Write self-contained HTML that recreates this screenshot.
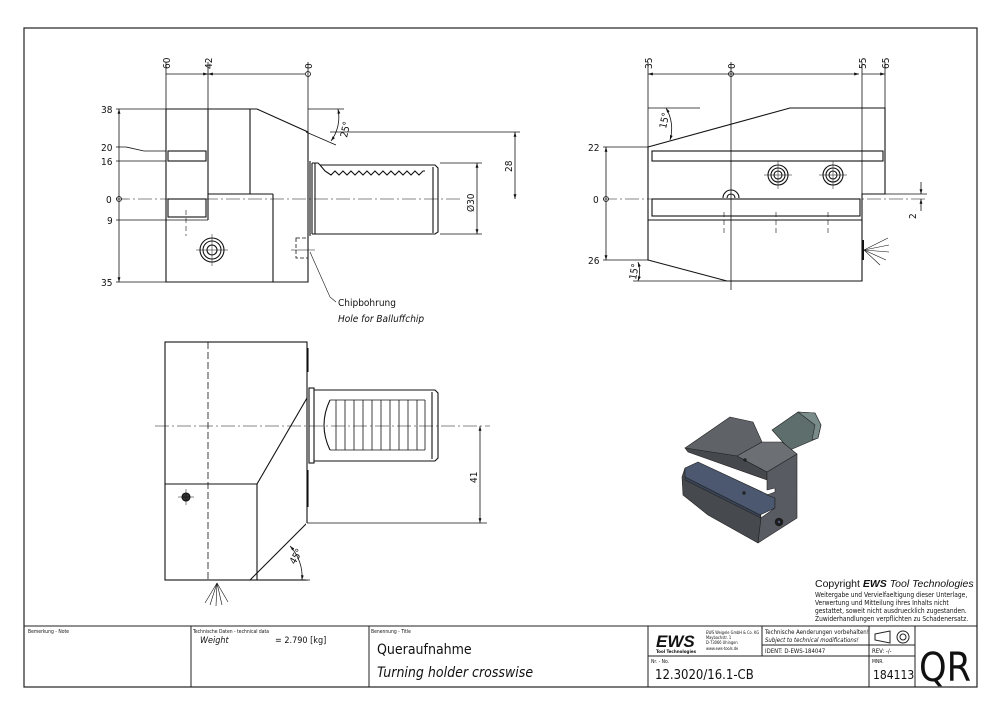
<!DOCTYPE html>
<html><head><meta charset="utf-8"><style>
html,body{margin:0;padding:0;background:#fff}
svg{display:block}
text{font-family:"DejaVu Sans Condensed","Liberation Sans",sans-serif;fill:#111}
</style></head><body>
<svg width="1000" height="715" viewBox="0 0 1000 715" xmlns="http://www.w3.org/2000/svg">
<defs>
<marker id="a" viewBox="0 0 10 10" refX="10" refY="5" markerWidth="6" markerHeight="6" orient="auto-start-reverse"><path d="M0,2 L10,5 L0,8z" fill="#111"/></marker>
</defs>
<rect x="0" y="0" width="1000" height="715" fill="#fff"/>
<rect x="24" y="28" width="953" height="659" fill="none" stroke="#222" stroke-width="1.2"/>

<g stroke="#111" stroke-width="0.8" fill="none">
<!-- ===== View 1 ===== -->
<line x1="166" y1="62" x2="166" y2="109"/><line x1="208" y1="62" x2="208" y2="220"/><line x1="308" y1="62" x2="308" y2="132"/>
<line x1="166" y1="74" x2="208" y2="74" marker-end="url(#a)"/><line x1="208" y1="74" x2="305" y2="74" marker-start="url(#a)"/>
<circle cx="308" cy="74" r="2.5"/>
<line x1="116" y1="109" x2="166" y2="109"/><line x1="116" y1="161" x2="166" y2="161"/><line x1="116" y1="220" x2="208" y2="220"/><line x1="116" y1="282" x2="166" y2="282"/>
<polyline points="116,147 126,147 144,151 166,151"/>
<line x1="119" y1="109" x2="119" y2="282" marker-start="url(#a)" marker-end="url(#a)"/>
<circle cx="119" cy="199" r="2.5"/>
<line x1="116" y1="199" x2="460" y2="199" stroke-dasharray="14,3,2,3" stroke-width="0.6"/>
<g stroke-width="1.1">
<polyline points="166,109 257,109 308,132 308,282 166,282 166,109"/>
<line x1="250" y1="109" x2="250" y2="194"/><line x1="208" y1="194" x2="273" y2="194"/><line x1="273" y1="194" x2="273" y2="282"/>
<line x1="208" y1="109" x2="208" y2="220"/>
<rect x="168" y="151" width="38" height="10"/><rect x="168" y="199" width="38" height="18"/>
<line x1="310" y1="161" x2="310" y2="236"/>
<polyline points="312,163 318,163 320,165 435,165 438,168 438,232 435,234 318,234 312,234"/>
<line x1="312" y1="163" x2="312" y2="234"/><line x1="315" y1="163" x2="315" y2="234"/>
<polyline points="320,165 325,171 331,175 335,171 339,175 343,171 347,175 351,171 355,175 359,171 363,175 367,171 371,175 375,171 379,175 383,171 387,175 391,171 395,175 399,171 403,175 407,171 411,175 415,171 419,175 423,171 425,171"/>
<line x1="433" y1="167" x2="433" y2="233"/>
<circle cx="212" cy="250" r="12"/><circle cx="212" cy="250" r="9"/><circle cx="212" cy="250" r="5"/>
</g>
<line x1="196" y1="250" x2="228" y2="250" stroke-width="0.5"/><line x1="212" y1="234" x2="212" y2="266" stroke-width="0.5"/>
<line x1="186" y1="210" x2="186" y2="236" stroke-dasharray="5,3" stroke-width="0.6"/>
<rect x="296" y="238" width="12" height="20" stroke-dasharray="4,2"/>
<line x1="291" y1="250" x2="315" y2="250" stroke-width="0.5"/>
<line x1="306" y1="132" x2="336" y2="145" stroke-width="0.8"/><line x1="308" y1="109" x2="344" y2="109"/>
<path d="M338,109 A40,40 0 0 1 331,141" marker-start="url(#a)" marker-end="url(#a)"/>
<line x1="330" y1="132" x2="520" y2="132"/><line x1="440" y1="163" x2="482" y2="163"/><line x1="440" y1="234" x2="482" y2="234"/>
<line x1="515" y1="132" x2="515" y2="199" marker-start="url(#a)" marker-end="url(#a)"/>
<line x1="477" y1="163" x2="477" y2="234" marker-start="url(#a)" marker-end="url(#a)"/>
<polyline points="310,252 330,297 336,302" stroke-width="0.6"/>

<!-- ===== View 2 ===== -->
<line x1="648" y1="62" x2="648" y2="147"/><line x1="731" y1="62" x2="731" y2="290"/><line x1="862" y1="62" x2="862" y2="194"/><line x1="885" y1="62" x2="885" y2="108"/>
<line x1="648" y1="74" x2="859" y2="74" marker-start="url(#a)" marker-end="url(#a)"/><line x1="862" y1="74" x2="885" y2="74" marker-end="url(#a)"/>
<circle cx="731" cy="74" r="2.5"/>
<line x1="603" y1="147" x2="648" y2="147"/><line x1="603" y1="260" x2="648" y2="260"/>
<line x1="606" y1="147" x2="606" y2="260" marker-start="url(#a)" marker-end="url(#a)"/>
<circle cx="606" cy="199" r="2.5"/>
<line x1="603" y1="199" x2="925" y2="199" stroke-dasharray="14,3,2,3" stroke-width="0.6"/>
<g stroke-width="1.1">
<polyline points="648,147 790,108 885,108 885,194 862,194 862,281 727,281 648,260 648,147"/>
<rect x="652" y="151" width="231" height="10"/><rect x="652" y="199" width="208" height="17"/>
<line x1="648" y1="220" x2="862" y2="220"/>
<circle cx="778" cy="175" r="10"/><circle cx="778" cy="175" r="7"/><circle cx="778" cy="175" r="4"/>
<circle cx="833" cy="175" r="10"/><circle cx="833" cy="175" r="7"/><circle cx="833" cy="175" r="4"/>
<path d="M723,198 A8,8 0 0 1 739,198"/><path d="M727,198 A4,4 0 0 1 735,198"/>
</g>
<line x1="764" y1="175" x2="792" y2="175" stroke-width="0.5"/><line x1="778" y1="161" x2="778" y2="189" stroke-width="0.5"/>
<line x1="819" y1="175" x2="847" y2="175" stroke-width="0.5"/><line x1="833" y1="161" x2="833" y2="189" stroke-width="0.5"/>
<line x1="724" y1="212" x2="724" y2="236" stroke-dasharray="5,3" stroke-width="0.6"/>
<line x1="776" y1="212" x2="776" y2="236" stroke-dasharray="5,3" stroke-width="0.6"/>
<line x1="828" y1="212" x2="828" y2="236" stroke-dasharray="5,3" stroke-width="0.6"/>
<line x1="885" y1="194" x2="927" y2="194"/>
<line x1="921" y1="182" x2="921" y2="194" marker-end="url(#a)"/><line x1="921" y1="211" x2="921" y2="199" marker-end="url(#a)"/>
<path d="M666,108 A40,40 0 0 1 670,140" marker-start="url(#a)" marker-end="url(#a)"/><line x1="648" y1="108" x2="700" y2="108"/>
<line x1="633" y1="281" x2="727" y2="281"/>
<path d="M638,262 A30,30 0 0 1 638,281" marker-start="url(#a)" marker-end="url(#a)"/>
<g stroke-width="0.6"><line x1="864" y1="250" x2="888" y2="238"/><line x1="864" y1="250" x2="889" y2="245"/><line x1="864" y1="250" x2="889" y2="252"/><line x1="864" y1="250" x2="886" y2="260"/><line x1="864" y1="250" x2="880" y2="265"/></g>
<line x1="863" y1="240" x2="863" y2="260" stroke-width="2"/>

<!-- ===== View 3 ===== -->
<line x1="155" y1="426" x2="490" y2="426" stroke-dasharray="14,3,2,3" stroke-width="0.6"/>
<line x1="208" y1="342" x2="208" y2="580" stroke-dasharray="7,3" stroke-width="0.8"/>
<g stroke-width="1.1">
<rect x="165" y="342" width="142" height="238"/>
<line x1="165" y1="484" x2="257" y2="484"/><line x1="257" y1="484" x2="257" y2="580"/>
<line x1="257" y1="484" x2="307" y2="398"/><line x1="250" y1="580" x2="307" y2="523"/>
<line x1="307" y1="523" x2="307" y2="580" stroke="#fff" stroke-width="2"/>
<line x1="308" y1="348" x2="308" y2="372"/><line x1="308" y1="470" x2="308" y2="507"/>
<rect x="309" y="388" width="5" height="75"/>
<polyline points="314,390 435,390 438,393 438,458 435,461 314,461"/>
<line x1="432" y1="392" x2="432" y2="459"/>
<path d="M330,400 Q318,425 330,450"/>
<g stroke-width="0.8">
<line x1="330" y1="400" x2="425" y2="400"/><line x1="330" y1="450" x2="425" y2="450"/>
<line x1="336" y1="400" x2="336" y2="450"/><line x1="345" y1="400" x2="345" y2="450"/><line x1="354" y1="400" x2="354" y2="450"/><line x1="363" y1="400" x2="363" y2="450"/><line x1="372" y1="400" x2="372" y2="450"/><line x1="381" y1="400" x2="381" y2="450"/><line x1="390" y1="400" x2="390" y2="450"/><line x1="399" y1="400" x2="399" y2="450"/><line x1="408" y1="400" x2="408" y2="450"/><line x1="417" y1="400" x2="417" y2="450"/><line x1="425" y1="400" x2="425" y2="450"/>
</g>
<circle cx="186" cy="497" r="4" fill="#333"/>
</g>
<line x1="178" y1="497" x2="194" y2="497" stroke-width="0.5"/><line x1="186" y1="489" x2="186" y2="505" stroke-width="0.5"/>
<line x1="307" y1="523" x2="487" y2="523"/>
<line x1="480" y1="426" x2="480" y2="523" marker-start="url(#a)" marker-end="url(#a)"/>
<line x1="250" y1="580" x2="310" y2="580"/>
<path d="M290,546 A45,45 0 0 1 302,580" marker-start="url(#a)" marker-end="url(#a)"/>
<g stroke-width="0.6"><line x1="217" y1="583" x2="205" y2="603"/><line x1="217" y1="583" x2="210" y2="605"/><line x1="217" y1="583" x2="216" y2="606"/><line x1="217" y1="583" x2="222" y2="605"/><line x1="217" y1="583" x2="228" y2="602"/></g>
</g>

<!-- dims text -->
<g font-size="10">
<text transform="translate(170,69) rotate(-90)">60</text>
<text transform="translate(212,69) rotate(-90)">42</text>
<text transform="translate(312,69) rotate(-90)">0</text>
<text x="101" y="113">38</text><text x="101" y="151">20</text><text x="101" y="165">16</text><text x="106" y="203">0</text><text x="107" y="224">9</text><text x="101" y="286">35</text>
<text transform="translate(347,138) rotate(-78)">25°</text>
<text transform="translate(512,172) rotate(-90)">28</text>
<text transform="translate(474,212) rotate(-90)">Ø30</text>
<text x="338" y="306">Chipbohrung</text>
<text x="338" y="322" font-style="italic">Hole for Balluffchip</text>
<text transform="translate(652,69) rotate(-90)">35</text>
<text transform="translate(735,69) rotate(-90)">0</text>
<text transform="translate(866,69) rotate(-90)">55</text>
<text transform="translate(889,69) rotate(-90)">65</text>
<text x="588" y="151">22</text><text x="593" y="203">0</text><text x="588" y="264">26</text>
<text transform="translate(666,129) rotate(-78)">15°</text>
<text transform="translate(636,280) rotate(-80)">15°</text>
<text transform="translate(916,219) rotate(-90)">2</text>
<text transform="translate(477,483) rotate(-90)">41</text>
<text transform="translate(295,565) rotate(-60)">45°</text>
</g>

<!-- iso render -->
<g stroke="#222" stroke-width="0.6" stroke-linejoin="round">
<polygon points="772,430 798,412 815,413 821,425 818,438 790,450" fill="#5e6e6c"/>
<polygon points="798,412 815,413 821,425 818,438 812,440 815,425" fill="#7a8c8a"/>
<polygon points="682,477 685,468 760,500 761,518 758,543 708,515 683,495" fill="#46494e"/>
<polygon points="685,468 698,462 775,498 775,508 760,515 685,477" fill="#4b5870"/>
<polygon points="685,477 760,515 761,518 685,480" fill="#3a4458"/>
<polygon points="685,448 730,417 753,422 762,442 737,456" fill="#5f6267"/>
<polygon points="685,448 737,456 767,472 767,480 688,452" fill="#45484d"/>
<polygon points="737,456 762,442 782,442 797,454 767,472" fill="#6c7075"/>
<polygon points="767,472 797,454 797,518 758,543 761,518 775,508 775,498 767,495 775,492 775,488 767,490" fill="#585c62"/>
<circle cx="779" cy="522" r="4" fill="#1a1a1a"/><circle cx="779" cy="522" r="1.5" fill="#4a5a80"/>
<circle cx="745" cy="460" r="1.4" fill="#222"/><circle cx="744" cy="493" r="1.4" fill="#222"/>
</g>

<!-- copyright -->
<text x="815" y="587" font-size="10.5" style="font-family:'Liberation Sans',sans-serif">Copyright <tspan font-weight="bold" font-style="italic">EWS</tspan> <tspan font-style="italic">Tool Technologies</tspan></text>
<g font-size="6.6" style="font-family:'Liberation Sans',sans-serif">
<text x="815" y="597">Weitergabe und Vervielfaeltigung dieser Unterlage,</text>
<text x="815" y="605">Verwertung und Mitteilung ihres Inhalts nicht</text>
<text x="815" y="613">gestattet, soweit nicht ausdruecklich zugestanden.</text>
<text x="815" y="621">Zuwiderhandlungen verpflichten zu Schadenersatz.</text>
</g>

<!-- title block -->
<g stroke="#222" stroke-width="1" fill="none">
<line x1="24" y1="626" x2="977" y2="626"/>
<line x1="191" y1="626" x2="191" y2="687"/><line x1="369" y1="626" x2="369" y2="687"/><line x1="648" y1="626" x2="648" y2="687"/>
<line x1="762" y1="626" x2="762" y2="656"/><line x1="869" y1="626" x2="869" y2="687"/><line x1="915" y1="626" x2="915" y2="687"/>
<line x1="648" y1="656" x2="915" y2="656"/><line x1="762" y1="645" x2="915" y2="645"/>
<polygon points="875,634 890,631 890,643 875,640"/><circle cx="903" cy="637" r="6"/><circle cx="903" cy="637" r="3"/>
</g>
<g font-size="5">
<text x="28" y="633">Bemerkung - Note</text><text x="193" y="633">Technische Daten - technical data</text><text x="371" y="633">Benennung - Title</text>
<text x="651" y="663">Nr. - No.</text><text x="872" y="663">MNR.</text>
</g>
<text x="200" y="643" font-size="9" font-style="italic">Weight</text><text x="275" y="643" font-size="9">=  2.790 [kg]</text>
<text x="377" y="654" font-size="14">Queraufnahme</text>
<text x="377" y="677" font-size="14" font-style="italic">Turning holder crosswise</text>
<text x="656" y="647" font-size="17" font-weight="bold" font-style="italic" style="font-family:'Liberation Sans',sans-serif">EWS</text>
<text x="656" y="653" font-size="4.5" font-weight="bold">Tool Technologies</text>
<g font-size="4"><text x="706" y="634">EWS Weigele GmbH &amp; Co. KG</text><text x="706" y="639">Maybachstr. 1</text><text x="706" y="644">D-73066 Uhingen</text><text x="706" y="650">www.ews-tools.de</text></g>
<text x="765" y="634" font-size="6">Technische Aenderungen vorbehalten!</text>
<text x="765" y="642" font-size="6" font-style="italic">Subject to technical modifications!</text>
<text x="765" y="653" font-size="6">IDENT:  D-EWS-184047</text>
<text x="872" y="653" font-size="6">REV:  -/-</text>
<text x="655" y="679" font-size="13">12.3020/16.1-CB</text>
<text x="873" y="679" font-size="12">184113</text>
<text x="919" y="681" font-size="40" textLength="52" lengthAdjust="spacingAndGlyphs" style="font-family:'DejaVu Sans Condensed',sans-serif">QR</text>
</svg>
</body></html>
